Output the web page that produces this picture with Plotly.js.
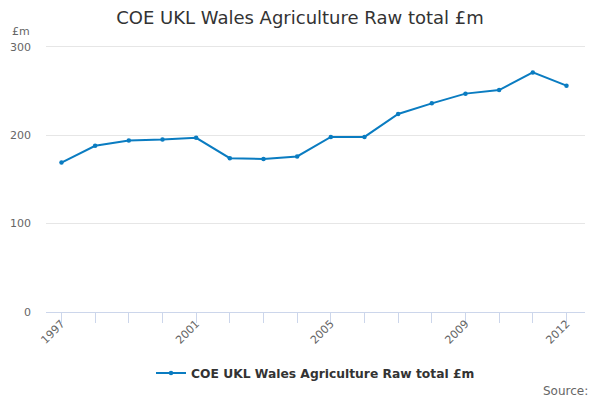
<!DOCTYPE html>
<html>
<head>
<meta charset="utf-8">
<script src="https://cdn.plot.ly/plotly-3.0.1.min.js"></script>
<style>
  html, body { margin: 0; padding: 0; background: #fff; }
  #chart { width: 600px; height: 400px; }
</style>
</head>
<body>
<div id="chart"></div>
<script>
const years = [1997, 1998, 1999, 2000, 2001, 2002, 2003, 2004, 2005, 2006, 2007, 2008, 2009, 2010, 2011, 2012];
const values = [169, 188, 194, 195, 197, 174, 173, 176, 198, 198, 224, 236, 247, 251, 271, 256];
const labelYears = [1997, 2001, 2005, 2009, 2012];
const seriesName = "COE UKL Wales Agriculture Raw total £m";

const font = "DejaVu Sans, Liberation Sans, sans-serif";

const trace = {
    x: years,
    y: values,
    type: "scatter",
    mode: "lines+markers",
    name: seriesName,
    line: { color: "#0a7cc1", width: 2 },
    marker: { color: "#0a7cc1", size: 4.5 }
};

const layout = {
    width: 600,
    height: 400,
    margin: { l: 46, r: 15, t: 45, b: 88 },
    font: { family: font, color: "#666666", size: 11 },
    title: {
        text: "COE UKL Wales Agriculture Raw total £m",
        font: { family: font, size: 18, color: "#333333" },
        x: 0.5, xanchor: "center",
        y: 0.955, yanchor: "middle"
    },
    xaxis: {
        range: [1996.54, 2012.55],
        tickmode: "array",
        tickvals: labelYears,
        ticktext: labelYears.map(String),
        tickangle: -45,
        showgrid: false,
        zeroline: false,
        showline: true,
        linecolor: "#ccd6eb",
        linewidth: 1,
        ticks: "",
        minor: {
            tickmode: "array",
            tickvals: years,
            ticks: "outside",
            ticklen: 10,
            tickcolor: "#ccd6eb",
            showgrid: false
        },
        tickfont: { size: 11, color: "#666666" }
    },
    yaxis: {
        range: [0, 302],
        tickvals: [0, 100, 200, 300],
        showgrid: true,
        gridcolor: "#e6e6e6",
        zeroline: false,
        showline: false,
        ticks: "",
        ticklabelstandoff: 14,
        tickfont: { size: 11, color: "#666666" }
    },
    showlegend: true,
    legend: {
        orientation: "h",
        x: 0.5, xanchor: "center",
        y: -0.228, yanchor: "middle",
        font: { family: font, size: 12.3, color: "#333333", weight: "bold" }
    },
    annotations: [
        {
            text: "£m",
            xref: "paper", yref: "paper",
            x: -0.066, y: 1.052,
            xanchor: "left", yanchor: "middle",
            showarrow: false,
            font: { family: font, size: 11, color: "#666666" }
        },
        {
            text: "Source:",
            xref: "paper", yref: "paper",
            x: 1.01, y: -0.295,
            xanchor: "right", yanchor: "middle",
            showarrow: false,
            font: { family: font, size: 12, color: "#666666" }
        }
    ],
    paper_bgcolor: "#ffffff",
    plot_bgcolor: "#ffffff"
};

Plotly.newPlot("chart", [trace], layout, { displayModeBar: false, staticPlot: true });
</script>
</body>
</html>
